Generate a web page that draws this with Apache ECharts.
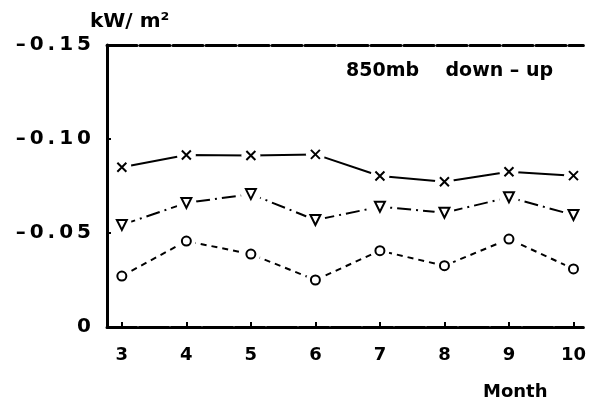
<!DOCTYPE html>
<html>
<head>
<meta charset="utf-8">
<script src="https://cdn.jsdelivr.net/npm/echarts@6/dist/echarts.min.js"></script>
<style>
  html, body { margin: 0; padding: 0; background: #fff; }
  #chart { width: 589px; height: 402px; }
</style>
</head>
<body>
<div id="chart"></div>
<script>
  // 月份
  const months = [3, 4, 5, 6, 7, 8, 9, 10];
  // 三条曲线 (kW/m2, 850mb down-up)
  const crossVals = [-0.085, -0.0915, -0.0912, -0.0918, -0.0803, -0.0773, -0.0826, -0.0805];
  const triVals = [-0.0543, -0.066, -0.0707, -0.0569, -0.064, -0.0608, -0.069, -0.0596];
  const circleVals = [-0.0271, -0.0457, -0.0388, -0.025, -0.0406, -0.0326, -0.0468, -0.0309];
  const yTicks = [-0.15, -0.10, -0.05, 0];

  const font = '"DejaVu Sans", sans-serif';
  const pair = (vals) => months.map((m, i) => [m, vals[i]]);
  const spaced = (s) => s.split('').join('\u2009');

  const crossPath = 'path://M0,0L8,10M8,0L0,10';

  // 折线 + 白色遮罩(制造断口) + 标记
  function makeSeries(vals, lineType, symbol, size, rotate) {
    return [
      {
        type: 'line', data: pair(vals), symbol: 'none', silent: true, z: 1,
        lineStyle: { color: '#000', width: 2, type: lineType }
      },
      {
        type: 'scatter', data: pair(vals), symbol: 'circle', symbolSize: size + 10, z: 3,
        itemStyle: { color: '#fff', opacity: 1 }, silent: true
      },
      {
        type: 'scatter', data: pair(vals), symbol: symbol, symbolSize: size, z: 4,
        symbolRotate: rotate || 0, silent: true,
        itemStyle: { color: '#fff', borderColor: '#000', borderWidth: 2, opacity: 1 }
      }
    ];
  }

  const myChart = echarts.init(document.getElementById('chart'));
  const option = {
    animation: false,
    grid: { left: 107, top: 45, right: 1, bottom: 75 },
    xAxis: [
      {
        type: 'value', min: 2.77, max: 10.154,
        axisLine: { lineStyle: { color: '#000', width: 3, type: [30, 2] } },
        axisTick: { inside: true, length: 5, lineStyle: { width: 2, color: '#000' }, customValues: months },
        axisLabel: { customValues: months, color: '#000', fontFamily: font, fontSize: 18, fontWeight: 'bold', margin: 19 },
        splitLine: { show: false }
      },
      {
        type: 'value', position: 'top', min: 2.77, max: 10.154,
        axisLine: { show: true, lineStyle: { color: '#000', width: 3, type: [30, 3] } },
        axisTick: { show: false }, axisLabel: { show: false }, splitLine: { show: false }
      }
    ],
    yAxis: {
      type: 'value', inverse: true, min: -0.15, max: 0, interval: 0.05,
      axisLine: { show: true, lineStyle: { color: '#000', width: 3 } },
      axisTick: { inside: true, length: 4, lineStyle: { width: 2, color: '#000' }, customValues: yTicks },
      axisLabel: {
        customValues: yTicks, color: '#000', fontFamily: font, fontSize: 20, fontWeight: 'bold', margin: 16,
        formatter: (v) => (Math.abs(v) < 1e-9 ? '0' : spaced(v.toFixed(2).replace('-', '\u2013')))
      },
      splitLine: { show: false }
    },
    series: [].concat(
      makeSeries(crossVals, 'solid', crossPath, 9),
      makeSeries(triVals, [14, 5, 2, 5], 'triangle', 10, 180),
      makeSeries(circleVals, [6, 5], 'circle', 9)
    ),
    graphic: [
      { type: 'text', left: 90, top: 12, style: { text: 'kW/ m²', font: 'bold 20px ' + font, fill: '#000' } },
      { type: 'text', left: 346, top: 62, style: { text: '850mb    down \u2013 up', font: 'bold 19px ' + font, fill: '#000' } },
      { type: 'text', left: 483, top: 383, style: { text: 'Month', font: 'bold 18px ' + font, fill: '#000' } }
    ]
  };
  myChart.setOption(option);
</script>
</body>
</html>
